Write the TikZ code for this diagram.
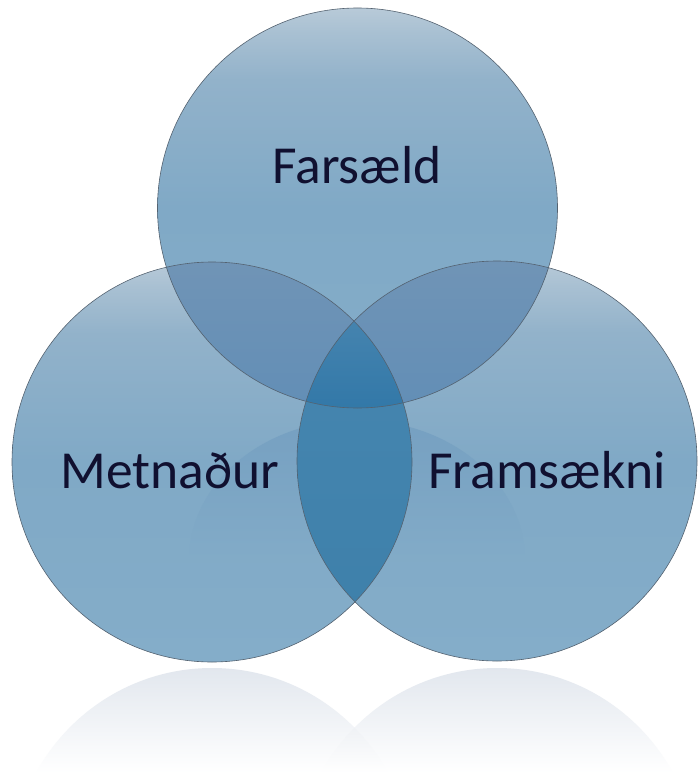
\documentclass[tikz,border=0pt]{standalone}
\usepackage{fontspec}
\setmainfont{Carlito}
\definecolor{ctop}{RGB}{184,202,216}
\definecolor{chi}{RGB}{146,178,202}
\definecolor{cmid}{RGB}{128,169,198}
\definecolor{cbot}{RGB}{132,173,201}
\definecolor{carc}{RGB}{118,160,193}
\definecolor{dtop}{RGB}{112,148,182}
\definecolor{dbot}{RGB}{98,142,182}
\definecolor{lens}{RGB}{62,128,170}
\definecolor{lenstop}{RGB}{70,134,176}
\definecolor{triple}{RGB}{50,120,168}
\definecolor{edge}{RGB}{84,98,112}
\definecolor{txt}{RGB}{16,16,48}
\definecolor{refl}{RGB}{226,231,238}
\definecolor{refld}{RGB}{218,224,232}
\pgfdeclareverticalshading{ballsh}{100bp}{color(0bp)=(cbot); color(25bp)=(cbot); color(50bp)=(cmid); color(66bp)=(chi); color(72bp)=(ctop!60!chi); color(75bp)=(ctop); color(100bp)=(ctop)}
\tikzset{
  lbl/.style={font=\fontsize{53.5}{60}\selectfont, text=txt, anchor=base, inner sep=0pt},
  rim/.style={draw=edge, line width=0.6pt}
}
\begin{document}
\begin{tikzpicture}[x=1pt,y=-1pt]
\useasboundingbox (0,0) rectangle (698,773);
\fill[white] (0,0) rectangle (698,773);
\coordinate (T) at (357.5,208);
\coordinate (L) at (212,462);
\coordinate (R) at (497,461);
\coordinate (LR) at (212,868);
\coordinate (RR) at (497,868);
% reflections
\begin{scope}
  \clip (0,668) rectangle (698,773);
  \begin{scope}
    \clip (LR) circle (200);
    \shade[top color=refl, bottom color=white] (0,668) rectangle (698,773);
  \end{scope}
  \begin{scope}
    \clip (RR) circle (200);
    \shade[top color=refl, bottom color=white] (0,668) rectangle (698,773);
  \end{scope}
  \begin{scope}
    \clip (LR) circle (200);
    \clip (RR) circle (200);
    \shade[top color=refld, bottom color=white] (0,668) rectangle (698,773);
  \end{scope}
\end{scope}
% circles
\shade[shading=ballsh] (L) circle (200);
\shade[shading=ballsh] (R) circle (200);
\shade[shading=ballsh] (T) circle (200);
% faint inner arc
\begin{scope}
  \clip (L) circle (200) (R) circle (200);
  \clip (357,560) ellipse (168 and 140);
  \shade[top color=carc, bottom color=cmid!50!cbot] (150,420) rectangle (560,560);
\end{scope}
% double overlaps
\begin{scope}
  \clip (T) circle (200);
  \clip (L) circle (200);
  \shade[top color=dtop, bottom color=dbot] (150,262) rectangle (420,410);
\end{scope}
\begin{scope}
  \clip (T) circle (200);
  \clip (R) circle (200);
  \shade[top color=dtop, bottom color=dbot] (295,261) rectangle (560,410);
\end{scope}
\begin{scope}
  \clip (L) circle (200);
  \clip (R) circle (200);
  \shade[top color=lenstop, bottom color=lens] (295,330) rectangle (420,620);
\end{scope}
\begin{scope}
  \clip (T) circle (200);
  \clip (L) circle (200);
  \clip (R) circle (200);
  \shade[top color=triple!80!chi, bottom color=triple] (295,320) rectangle (420,410);
\end{scope}
% rims
\draw[rim] (L) circle (200);
\draw[rim] (R) circle (200);
\draw[rim] (T) circle (200);
% labels
\node[lbl] (far) at (357,183) {Farsæld};
\node[lbl] (met) at (170,488) {Metnaður};
\node[lbl] (fra) at (547,488) {Framsækni};
\end{tikzpicture}
\end{document}
